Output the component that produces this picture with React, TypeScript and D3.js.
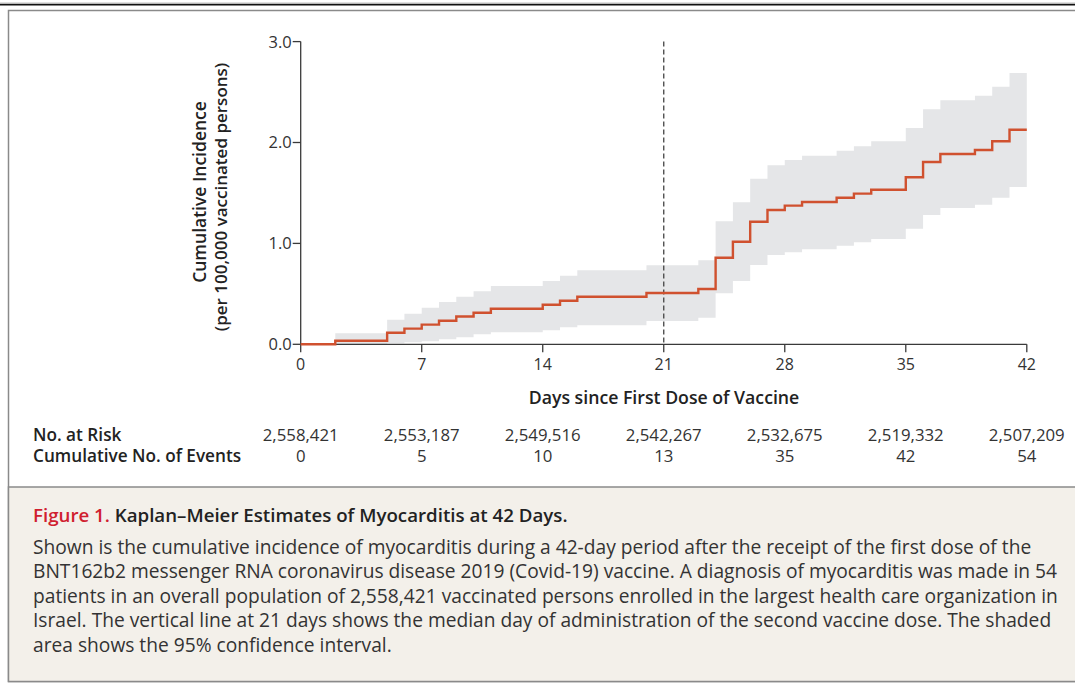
import * as d3 from 'd3';
import React from 'react';

// step points of the Kaplan-Meier estimate (days since first dose)
const stepDays = [0, 2, 5, 6, 7, 8, 9, 10, 11, 14, 15, 16, 20, 23, 24, 25, 26, 27, 28, 29, 31, 32, 33, 35, 36, 37, 39, 40, 41, 42];
const estimate = [0, 0.035, 0.115, 0.155, 0.195, 0.234, 0.275, 0.313, 0.352, 0.392, 0.432, 0.471, 0.508, 0.548, 0.858, 1.017, 1.215, 1.331, 1.374, 1.41, 1.453, 1.493, 1.532, 1.655, 1.807, 1.886, 1.926, 2.012, 2.127, 2.127];
const upper = [0, 0.11, 0.244, 0.303, 0.363, 0.419, 0.472, 0.525, 0.578, 0.627, 0.68, 0.733, 0.783, 0.832, 1.219, 1.407, 1.641, 1.774, 1.827, 1.869, 1.919, 1.962, 2.012, 2.144, 2.329, 2.418, 2.464, 2.553, 2.689, 2.689];
const lower = [0, 0, 0.01, 0.02, 0.03, 0.05, 0.07, 0.1, 0.12, 0.14, 0.17, 0.19, 0.23, 0.264, 0.505, 0.627, 0.786, 0.885, 0.912, 0.941, 0.977, 1.011, 1.044, 1.146, 1.281, 1.351, 1.384, 1.453, 1.559, 1.559];

const xTicks = [0, 7, 14, 21, 28, 35, 42];
const yTicks = [0, 1, 2, 3];
const atRisk = [2558421, 2553187, 2549516, 2542267, 2532675, 2519332, 2507209];
const cumEvents = [0, 5, 10, 13, 35, 42, 54];
const secondDoseDay = 21;

const captionTitle = 'Kaplan\u2013Meier Estimates of Myocarditis at 42 Days.';
const captionLines = [
  'Shown is the cumulative incidence of myocarditis during a 42-day period after the receipt of the first dose of the',
  'BNT162b2 messenger RNA coronavirus disease 2019 (Covid-19) vaccine. A diagnosis of myocarditis was made in 54',
  'patients in an overall population of 2,558,421 vaccinated persons enrolled in the largest health care organization in',
  'Israel. The vertical line at 21 days shows the median day of administration of the second vaccine dose. The shaded',
  'area shows the 95% confidence interval.',
];

const font = '"Open Sans", Lato, sans-serif';

export default function App() {
  const width = 1075;
  const height = 683;

  const x = d3.scaleLinear().domain([0, 42]).range([300.7, 1026.8]);
  const y = d3.scaleLinear().domain([0, 3]).range([344.3, 41.6]);

  const pts = stepDays.map((d, i) => ({ d, e: estimate[i], lo: lower[i], hi: upper[i] }));

  const line = d3.line<any>()
    .x((p) => x(p.d))
    .y((p) => y(p.e))
    .curve(d3.curveStepAfter);

  const area = d3.area<any>()
    .x((p) => x(p.d))
    .y0((p) => y(p.lo))
    .y1((p) => y(p.hi))
    .curve(d3.curveStepAfter);

  const fmtY = d3.format('.1f');
  const fmtN = d3.format(',');

  return (
    <svg width={width} height={height} style={{ position: 'absolute', left: 0, top: 0, fontFamily: font }}>
      <rect x={0} y={0} width={width} height={height} fill="#fff" />
      {/* top rules */}
      <line x1={0} x2={width} y1={3.2} y2={3.2} stroke="#999" strokeWidth={1} />
      <line x1={0} x2={width} y1={4.8} y2={4.8} stroke="#111" strokeWidth={1.6} />
      {/* figure frame */}
      <rect x={8.5} y={10.5} width={width} height={671} fill="#fff" stroke="#8a8a8a" strokeWidth={1.5} />
      <rect x={8.5} y={487} width={width} height={194.5} fill="#f3f0ea" stroke="#8a8a8a" strokeWidth={1.5} />

      {/* confidence band */}
      <path d={area(pts) || ''} fill="#e5e6e8" />

      {/* axes */}
      <line x1={x(0)} x2={x(42)} y1={y(0)} y2={y(0)} stroke="#3a3a3a" strokeWidth={1.3} />
      <line x1={x(0)} x2={x(0)} y1={y(0)} y2={y(3)} stroke="#3a3a3a" strokeWidth={1.3} />
      {yTicks.map((t) => (
        <g key={'y' + t}>
          <line x1={x(0) - 8} x2={x(0)} y1={y(t)} y2={y(t)} stroke="#3a3a3a" strokeWidth={1.3} />
          <text x={x(0) - 9} y={y(t)} dy="0.36em" textAnchor="end" fontSize={16.5} fill="#333">{fmtY(t)}</text>
        </g>
      ))}
      {xTicks.map((t) => (
        <g key={'x' + t}>
          <line x1={x(t)} x2={x(t)} y1={y(0)} y2={y(0) + 8} stroke="#3a3a3a" strokeWidth={1.3} />
          <text x={x(t)} y={370} textAnchor="middle" fontSize={16} fill="#333">{t}</text>
        </g>
      ))}

      {/* second dose marker */}
      <line x1={x(secondDoseDay)} x2={x(secondDoseDay)} y1={y(3)} y2={y(0)} stroke="#444" strokeWidth={1.3} strokeDasharray="5,3" />

      {/* estimate */}
      <path d={line(pts) || ''} fill="none" stroke="#d0512f" strokeWidth={2.4} />

      {/* axis titles */}
      <g transform="translate(200, 192) rotate(-90)">
        <text textAnchor="middle" dy="0.35em" fontSize={17.5} fontWeight="600" fill="#222">Cumulative Incidence</text>
      </g>
      <g transform="translate(221, 197) rotate(-90)">
        <text textAnchor="middle" dy="0.35em" fontSize={17} fontWeight="600" fill="#222">(per 100,000 vaccinated persons)</text>
      </g>
      <text x={664} y={404} textAnchor="middle" fontSize={17.7} fontWeight="600" fill="#222">Days since First Dose of Vaccine</text>

      {/* risk table */}
      <text x={33} y={441} fontSize={17.2} fontWeight="600" fill="#222">No. at Risk</text>
      <text x={33} y={462} fontSize={17.2} fontWeight="600" fill="#222">Cumulative No. of Events</text>
      {xTicks.map((t, i) => (
        <g key={'r' + t}>
          <text x={x(t)} y={441} textAnchor="middle" fontSize={16.8} fill="#333">{fmtN(atRisk[i])}</text>
          <text x={x(t)} y={462} textAnchor="middle" fontSize={16.8} fill="#333">{cumEvents[i]}</text>
        </g>
      ))}

      {/* caption */}
      <text x={33} y={522} fontSize={18.7} fontWeight="600" fill="#222">
        <tspan fill="#d0202f">Figure 1.</tspan> {captionTitle}
      </text>
      {captionLines.map((l, i) => (
        <text key={'c' + i} x={33} y={553.5 + i * 24.6} fontSize={19.2} fill="#333">{l}</text>
      ))}
    </svg>
  );
}
